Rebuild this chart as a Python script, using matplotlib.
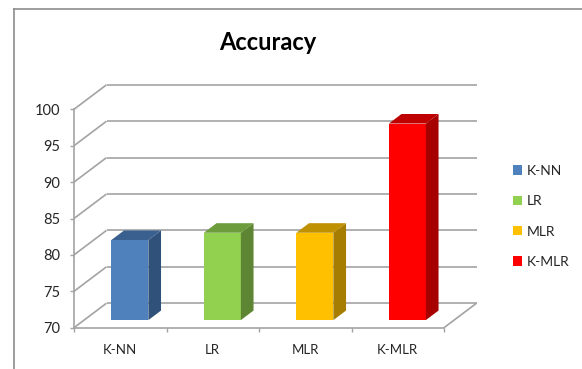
import matplotlib
matplotlib.use('Agg')
import matplotlib.pyplot as plt
from matplotlib.lines import Line2D
from matplotlib.patches import Patch, Polygon

categories = ['K-NN', 'LR', 'MLR', 'K-MLR']
accuracy = [81, 82, 82, 97]
y_ticks = [70, 75, 80, 85, 90, 95, 100]
front_colors = ['#4F81BD', '#92D050', '#FFC000', '#FF0000']
side_colors = ['#30517A', '#5E8533', '#A67D00', '#A60000']
top_colors = ['#3A6090', '#6D9C3C', '#BF9000', '#BF0000']

GRID = '#A3A3A3'
TEXT = '#262626'
BORDER = '#8C8C8C'

plt.rcParams['font.family'] = ['Lato', 'DejaVu Sans']

W, H = 582, 369
fig = plt.figure(figsize=(W / 100, H / 100), dpi=100)
ax = fig.add_axes([74 / W, (H - 327.7) / H, 370 / W, 218.4 / H])
ax.set_xlim(0, len(categories))
ax.set_ylim(y_ticks[0], y_ticks[-1])
ax.patch.set_visible(False)

# oblique projection: depth of the chart box in data units
depth_x = 32.5 / 92.5
depth_y = 24.5 / 7.28
bar_start = 0.31
bar_depth = 0.39
bar_width = 0.4


def depth_line(x0, x1, y, **kw):
    ax.plot([x0, x1], [y, y], clip_on=False, **kw)


line_style = dict(color=GRID, lw=1.2, zorder=1, solid_capstyle='butt')

# back wall and left wall
for v in y_ticks:
    depth_line(depth_x, len(categories) + depth_x, v + depth_y, **line_style)
    ax.plot([0, depth_x], [v, v + depth_y], clip_on=False, **line_style)

# floor
ax.plot([len(categories), len(categories) + depth_x],
        [y_ticks[0], y_ticks[0] + depth_y], clip_on=False, **line_style)

# bars, front face through bar() and the two visible faces as polygons
for i, value in enumerate(accuracy):
    x0 = i + 0.5 - bar_width / 2 + depth_x * bar_start - 0.005
    x1 = x0 + bar_width
    y0 = y_ticks[0] + depth_y * bar_start
    y1 = value + depth_y * bar_start
    dx = depth_x * bar_depth
    dy = depth_y * bar_depth
    ax.bar(x0, value - y_ticks[0], width=bar_width, bottom=y0, align='edge',
           color=front_colors[i], zorder=3, clip_on=False)
    ax.add_patch(Polygon([(x1, y0), (x1 + dx, y0 + dy), (x1 + dx, y1 + dy),
                          (x1, y1)], closed=True, fc=side_colors[i],
                         ec='none', zorder=3, clip_on=False))
    ax.add_patch(Polygon([(x0, y1), (x0 + dx, y1 + dy), (x1 + dx, y1 + dy),
                          (x1, y1)], closed=True, fc=top_colors[i],
                         ec='none', zorder=3, clip_on=False))

for name in ['top', 'right']:
    ax.spines[name].set_visible(False)
for name in ['left', 'bottom']:
    ax.spines[name].set_color(GRID)
    ax.spines[name].set_linewidth(1.2)

ax.set_yticks(y_ticks)
ax.tick_params(axis='y', length=3, width=1, color=GRID, labelcolor=TEXT,
               labelsize=10.5, pad=7)
ax.set_xticks(range(len(categories) + 1))
ax.set_xticklabels([])
ax.set_xticks([i + 0.5 for i in range(len(categories))], minor=True)
ax.set_xticklabels(categories, minor=True, fontsize=9.5, color=TEXT)
ax.tick_params(axis='x', which='major', length=3, width=1, color=GRID)
ax.tick_params(axis='x', which='minor', length=0, pad=11.5)

fig.text(268 / W, (H - 42.5) / H, 'Accuracy', fontsize=17, fontweight='bold',
         color='black', ha='center', va='center')

handles = [Patch(fc=c, ec='none', label=n)
           for c, n in zip(front_colors, categories)]
fig.legend(handles=handles, loc='center left',
           bbox_to_anchor=(500 / W, (H - 216.5) / H), frameon=False,
           fontsize=10, labelcolor=TEXT, labelspacing=1.32,
           handlelength=0.65, handleheight=0.65, handletextpad=0.4)

# outer frame, left and top edges
fig.add_artist(Line2D([14 / W, 14 / W], [0, (H - 9) / H], color=BORDER, lw=1.2))
fig.add_artist(Line2D([14 / W, 1], [(H - 9) / H, (H - 9) / H], color=BORDER, lw=1.2))

fig.savefig('out.png', dpi=100)
